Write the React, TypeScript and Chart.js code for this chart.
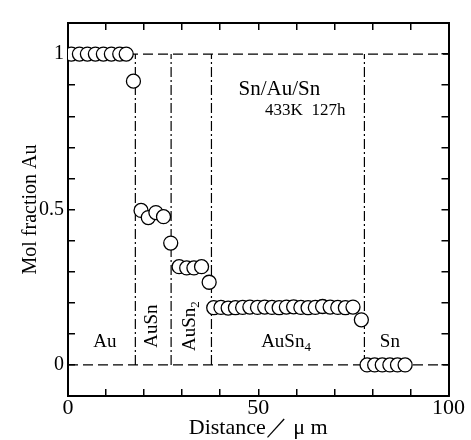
import React, { useEffect, useRef } from "react";
import { Chart, registerables } from "chart.js";

Chart.register(...registerables);

// Measured composition profile (distance in µm, mol fraction of Au)
const distanceUm = [
  0.9, 3.0, 5.1, 7.2, 9.3, 11.4, 13.6, 15.3,
  17.2,
  19.2, 21.1, 23.1, 25.1,
  27.0,
  29.2, 31.2, 33.1, 35.1,
  37.1,
  38.3, 40.2, 42.1, 44.0, 45.9, 47.8, 49.8, 51.7, 53.6, 55.5,
  57.4, 59.3, 61.2, 63.1, 65.0, 66.9, 68.9, 70.9, 72.9, 74.9,
  77.1,
  78.6, 80.6, 82.6, 84.6, 86.6, 88.6,
];
const molFractionAu = [
  1.0, 1.0, 1.0, 1.0, 1.0, 1.0, 1.0, 1.0,
  0.913,
  0.497, 0.474, 0.49, 0.477,
  0.392,
  0.316, 0.312, 0.312, 0.316,
  0.266,
  0.184, 0.185, 0.183, 0.184, 0.185, 0.186, 0.185, 0.186, 0.185, 0.184,
  0.186, 0.187, 0.185, 0.184, 0.185, 0.188, 0.186, 0.185, 0.184, 0.186,
  0.145,
  0.0, 0.0, 0.0, 0.0, 0.0, 0.0,
];

// Phase boundaries (µm) and reference composition levels
const phaseBoundariesUm = [17.7, 27.1, 37.7, 77.9];
const referenceLevels = [0, 1];

// Tick labels shown
const xTickValues = [0, 50, 100];
const xTickLabels = ["0", "50", "100"];
const yTickValues = [0, 0.5, 1];
const yTickLabels = ["0", "0.5", "1"];

// Phase names
const phaseNames = ["Au", "AuSn", "AuSn", "AuSn", "Sn"];
const phaseSubscripts = ["", "", "2", "4", ""];

// Annotation placement (data coordinates)
const phaseLabelX = [9.7, 22.2, 32.1, 57.3, 84.6];
const phaseLabelY = [0.073, 0.125, 0.125, 0.073, 0.073];
const phaseLabelVertical = [false, true, true, false, false];

const specimenTitle = "Sn/Au/Sn";
const specimenCondition = "433K  127h";

const SERIF = "'Liberation Serif', 'DejaVu Serif', serif";

const labelFor = (v: number, values: number[], labels: string[]) => {
  const i = values.findIndex((t) => Math.abs(t - v) < 1e-6);
  return i >= 0 ? labels[i] : "";
};

const textPlugin = {
  id: "phaseText",
  afterDraw(chart: any) {
    const { ctx, scales } = chart;
    const xs = scales.x;
    const ys = scales.y;
    ctx.save();
    ctx.fillStyle = "#000";
    for (let i = 0; i < phaseNames.length; i++) {
      const px = xs.getPixelForValue(phaseLabelX[i]);
      const py = ys.getPixelForValue(phaseLabelY[i]);
      ctx.save();
      ctx.translate(px, py);
      if (phaseLabelVertical[i]) ctx.rotate(-Math.PI / 2);
      const mainFont = `19px ${SERIF}`;
      const subFont = `13px ${SERIF}`;
      ctx.font = mainFont;
      const w = ctx.measureText(phaseNames[i]).width;
      ctx.font = subFont;
      const sw = phaseSubscripts[i] ? ctx.measureText(phaseSubscripts[i]).width : 0;
      const total = w + sw;
      ctx.textAlign = "left";
      ctx.textBaseline = "middle";
      ctx.font = mainFont;
      ctx.fillText(phaseNames[i], -total / 2, 0);
      if (phaseSubscripts[i]) {
        ctx.font = subFont;
        ctx.fillText(phaseSubscripts[i], -total / 2 + w, 5);
      }
      ctx.restore();
    }
    ctx.textAlign = "left";
    ctx.textBaseline = "middle";
    ctx.font = `21px ${SERIF}`;
    ctx.fillText(specimenTitle, xs.getPixelForValue(44.8), ys.getPixelForValue(0.885));
    ctx.font = `17px ${SERIF}`;
    ctx.fillText(specimenCondition, xs.getPixelForValue(51.8), ys.getPixelForValue(0.82));
    ctx.restore();
  },
};

export default function App() {
  const ref = useRef<HTMLCanvasElement | null>(null);

  useEffect(() => {
    if (!ref.current) return;
    const points = distanceUm.map((x, i) => ({ x, y: molFractionAu[i] }));
    const verticals = phaseBoundariesUm.map((b) => ({
      data: [
        { x: b, y: referenceLevels[0] },
        { x: b, y: referenceLevels[1] },
      ],
      showLine: true,
      borderColor: "#000",
      borderWidth: 1.2,
      borderDash: [10, 3, 2, 3],
      pointRadius: 0,
      fill: false,
    }));
    const horizontals = referenceLevels.map((lv) => ({
      data: [
        { x: 0, y: lv },
        { x: 100, y: lv },
      ],
      showLine: true,
      borderColor: "#000",
      borderWidth: 1.2,
      borderDash: [10, 5],
      pointRadius: 0,
      fill: false,
    }));

    const axisFont = { family: SERIF, size: 20 };
    const tickGrid = {
      drawOnChartArea: false,
      drawTicks: true,
      tickLength: -7,
      color: "#000",
      lineWidth: 1.5,
    };
    const border = { display: true, color: "#000", width: 2 };

    const chart = new Chart(ref.current, {
      type: "scatter",
      data: {
        datasets: [
          {
            data: points,
            pointRadius: 7,
            pointBorderWidth: 1.3,
            pointBackgroundColor: "#fff",
            pointBorderColor: "#000",
            showLine: false,
          } as any,
          ...verticals,
          ...horizontals,
        ],
      },
      options: {
        animation: false,
        responsive: false,
        devicePixelRatio: 1,
        layout: { padding: 0 },
        plugins: {
          legend: { display: false },
          tooltip: { enabled: false },
        },
        scales: {
          x: {
            type: "linear",
            position: "bottom",
            min: 0,
            max: 100,
            afterFit: (s: any) => {
              s.height = 44;
            },
            border,
            grid: tickGrid,
            ticks: {
              stepSize: 10,
              autoSkip: false,
              maxRotation: 0,
              padding: 6,
              color: "#000",
              font: { family: SERIF, size: 22 },
              callback: (v: any) => labelFor(Number(v), xTickValues, xTickLabels),
            },
            title: {
              display: true,
              text: "Distance／ μ m",
              color: "#000",
              font: { family: SERIF, size: 22 },
              padding: { top: 0, bottom: -1 },
            },
          },
          x2: {
            type: "linear",
            position: "top",
            min: 0,
            max: 100,
            afterFit: (s: any) => {
              s.height = 15;
            },
            border,
            grid: tickGrid,
            ticks: { stepSize: 10, autoSkip: false, display: false },
          },
          y: {
            type: "linear",
            position: "left",
            min: -0.1,
            max: 1.1,
            afterFit: (s: any) => {
              s.width = 68;
            },
            border,
            grid: tickGrid,
            ticks: {
              stepSize: 0.1,
              autoSkip: false,
              padding: 11,
              color: "#000",
              font: axisFont,
              callback: (v: any) => labelFor(Number(v), yTickValues, yTickLabels),
            },
            title: {
              display: true,
              text: "Mol fraction Au",
              color: "#000",
              font: axisFont,
              padding: { top: 19, bottom: 0 },
            },
          },
          y2: {
            type: "linear",
            position: "right",
            min: -0.1,
            max: 1.1,
            afterFit: (s: any) => {
              s.width = 19;
            },
            border,
            grid: tickGrid,
            ticks: { stepSize: 0.1, autoSkip: false, display: false },
          },
        },
      } as any,
      plugins: [textPlugin],
    });
    return () => chart.destroy();
  }, []);

  return (
    <div style={{ position: "absolute", left: 0, top: 0, width: 471, height: 440, background: "#fff" }}>
      <canvas ref={ref} width={471} height={440} style={{ display: "block" }} />
    </div>
  );
}
